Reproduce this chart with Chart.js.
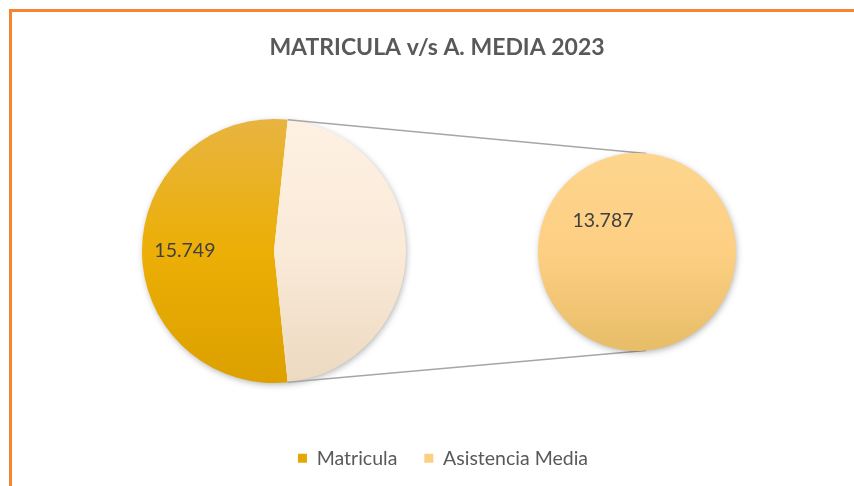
<!DOCTYPE html>
<html lang="es">
<head>
<meta charset="utf-8">
<title>Matricula v/s A. Media 2023</title>
<script src="https://cdn.jsdelivr.net/npm/chart.js@4.4.1/dist/chart.umd.min.js"></script>
<style>
  html, body { margin: 0; padding: 0; background: #fff; overflow: hidden; }
  #wrap { position: relative; width: 854px; height: 486px; overflow: hidden; }
  #frame { position: absolute; left: 9px; top: 9px; width: 900px; height: 600px;
           border: 3px solid #F5862F; box-sizing: border-box; background: #fff; }
  #wrap canvas { position: absolute; left: 0; top: 0; }
</style>
</head>
<body>
<div id="wrap">
  <div id="frame"></div>
  <canvas id="mainPie" width="854" height="486"></canvas>
  <canvas id="subPie" width="854" height="486"></canvas>
</div>
<script>
// data
const categories = ['Matricula', 'Asistencia Media'];
const values = [15749, 13787];
// the second pie breaks out everything after the first category
const subValues = values.slice(1);

const TITLE = 'MATRICULA v/s A. MEDIA 2023';
const FONT = 'Lato, "Open Sans", sans-serif';

// vertical gradient stops: top, middle, bottom
const GOLD  = ['#E8B440', '#ECAF06', '#DCA000'];
const CREAM = ['#FEF1E2', '#FAEAD8', '#ECD9C0'];
const PEACH = ['#FDD58D', '#FDCF83', '#E7BD68'];
const LEGEND_COLORS = ['#E4A806', '#FCD083'];

const total = values.reduce((a, b) => a + b, 0);
const fmt = v => v.toLocaleString('en-US').replace(/,/g, '.');

// one gradient per slice, picked by index
function vGradient(list) {
  return ctx => {
    const stops = list[ctx.dataIndex] || list[0];
    const area = ctx.chart.chartArea;
    if (!area) return stops[1];
    const g = ctx.chart.ctx.createLinearGradient(0, area.top, 0, area.bottom);
    g.addColorStop(0, stops[0]);
    g.addColorStop(0.5, stops[1]);
    g.addColorStop(1, stops[2]);
    return g;
  };
}

// puts the pie in a fixed square instead of the leftover chart area
const pieBox = {
  id: 'pieBox',
  afterLayout(chart, args, opts) {
    if (!opts.size) return;
    Object.assign(chart.chartArea, {
      left: opts.left, top: opts.top,
      right: opts.left + opts.size, bottom: opts.top + opts.size,
      width: opts.size, height: opts.size
    });
  }
};

// soft drop shadow behind the whole disc
const pieShadow = {
  id: 'pieShadow',
  beforeDatasetsDraw(chart) {
    const arc = chart.getDatasetMeta(0).data[0];
    if (!arc) return;
    const p = arc.getProps(['x', 'y', 'outerRadius'], true);
    const c = chart.ctx;
    c.save();
    c.shadowColor = 'rgba(0,0,0,0.35)';
    c.shadowBlur = 7;
    c.shadowOffsetX = 1;
    c.shadowOffsetY = 2;
    c.fillStyle = '#fff';
    c.beginPath();
    c.arc(p.x, p.y, p.outerRadius - 1, 0, Math.PI * 2);
    c.fill();
    c.restore();
  }
};

// value labels inside the slices
const sliceLabels = {
  id: 'sliceLabels',
  afterDatasetsDraw(chart, args, opts) {
    const meta = chart.getDatasetMeta(0);
    const data = chart.data.datasets[0].data;
    const c = chart.ctx;
    c.save();
    c.font = '19.5px ' + FONT;
    c.fillStyle = '#404040';
    c.textAlign = 'center';
    c.textBaseline = 'middle';
    opts.indexes.forEach(i => {
      const p = meta.data[i].getProps(['x', 'y', 'startAngle', 'endAngle', 'outerRadius'], true);
      const mid = (p.startAngle + p.endAngle) / 2;
      const r = p.outerRadius * opts.distance;
      c.fillText(fmt(data[i]), p.x + Math.cos(mid) * r, p.y + Math.sin(mid) * r);
    });
    c.restore();
  }
};

const mainChart = new Chart(document.getElementById('mainPie'), {
  type: 'pie',
  data: {
    labels: categories,
    datasets: [{
      data: values,
      backgroundColor: vGradient([GOLD, CREAM]),
      borderWidth: 0
    }]
  },
  options: {
    responsive: false,
    animation: false,
    // the "other" slice is centred on 3 o'clock, facing the second pie
    rotation: 90 + 180 * values[1] / total,
    layout: { padding: { left: 20 } },
    plugins: {
      title: {
        display: true,
        text: TITLE,
        color: '#595959',
        font: { family: FONT, size: 23, weight: 'bold' },
        padding: { top: 34, bottom: 0 }
      },
      legend: { display: false },
      tooltip: { enabled: false },
      pieBox: { left: 142, top: 119, size: 264 },
      sliceLabels: { indexes: [0], distance: 0.675 }
    }
  },
  plugins: [pieBox, pieShadow, sliceLabels]
});

// grey lines from the split slice to the second pie (outer tangents)
const connectors = {
  id: 'connectors',
  beforeDatasetsDraw(chart) {
    const src = mainChart.getDatasetMeta(0).data[1];
    const dst = chart.getDatasetMeta(0).data[0];
    if (!src || !dst) return;
    const a = src.getProps(['x', 'y', 'startAngle', 'endAngle', 'outerRadius'], true);
    const b = dst.getProps(['x', 'y', 'outerRadius'], true);
    const ends = [a.startAngle, a.endAngle].map(t => ({
      x: a.x + Math.cos(t) * a.outerRadius,
      y: a.y + Math.sin(t) * a.outerRadius
    }));
    const c = chart.ctx;
    c.save();
    c.strokeStyle = '#A6A6A6';
    c.lineWidth = 1.5;
    ends.forEach((p, k) => {
      const dx = b.x - p.x, dy = b.y - p.y;
      const d = Math.hypot(dx, dy);
      const theta = Math.atan2(dy, dx);
      const alpha = Math.asin(b.outerRadius / d);
      let tx, ty;
      if (k === 0) {
        const phi = theta - alpha;
        tx = b.x + b.outerRadius * Math.sin(phi);
        ty = b.y - b.outerRadius * Math.cos(phi);
      } else {
        const phi = theta + alpha;
        tx = b.x - b.outerRadius * Math.sin(phi);
        ty = b.y + b.outerRadius * Math.cos(phi);
      }
      c.beginPath();
      c.moveTo(p.x, p.y);
      c.lineTo(tx, ty);
      c.stroke();
    });
    c.restore();
  }
};

const subChart = new Chart(document.getElementById('subPie'), {
  type: 'pie',
  data: {
    labels: categories.slice(1),
    datasets: [{
      data: subValues,
      backgroundColor: vGradient([PEACH]),
      borderWidth: 0
    }]
  },
  options: {
    responsive: false,
    animation: false,
    // start angle chosen so the value label lands upper-left
    rotation: 133,
    layout: { padding: { left: 32, bottom: 8 } },
    plugins: {
      title: { display: false },
      legend: {
        position: 'bottom',
        labels: {
          boxWidth: 9,
          boxHeight: 9,
          padding: 27,
          color: '#595959',
          font: { family: FONT, size: 19.5 },
          generateLabels: () => categories.map((text, i) => ({
            text,
            fillStyle: LEGEND_COLORS[i],
            strokeStyle: LEGEND_COLORS[i],
            lineWidth: 0,
            fontColor: '#595959',
            hidden: false,
            index: i
          }))
        }
      },
      tooltip: { enabled: false },
      pieBox: { left: 538, top: 153, size: 198 },
      sliceLabels: { indexes: [0], distance: 0.47 }
    }
  },
  plugins: [pieBox, connectors, pieShadow, sliceLabels]
});
</script>
</body>
</html>
